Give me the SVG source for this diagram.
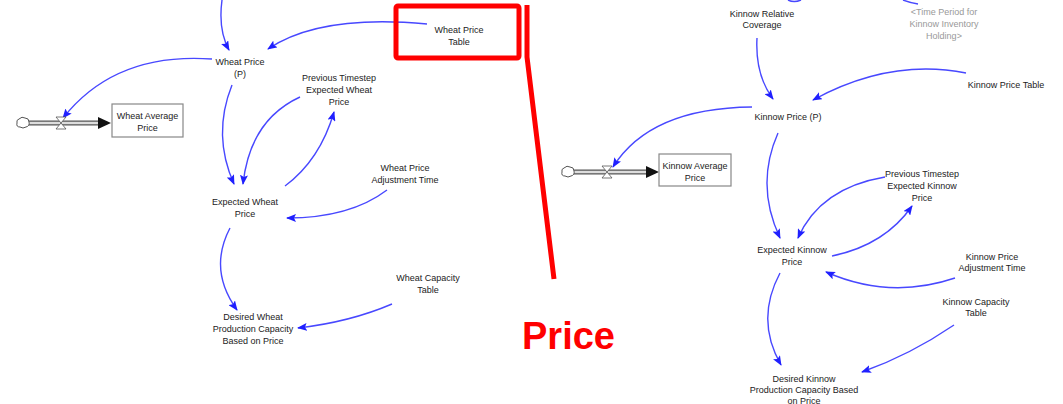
<svg xmlns="http://www.w3.org/2000/svg" width="1063" height="404" viewBox="0 0 1063 404">
<defs>
<marker id="ah" viewBox="0 0 10 8" refX="9" refY="4" markerWidth="10" markerHeight="8" markerUnits="userSpaceOnUse" orient="auto">
<path d="M0,0 L10,4 L0,8 L2,4 Z" fill="#2020ff"/>
</marker>
<style>
.t{font-family:"Liberation Sans",Arial,sans-serif;font-size:9px;fill:#222;text-anchor:middle}
.g{fill:#999}
.arc{fill:none;stroke:#4848ff;stroke-width:1.4}
.pipeo{fill:none;stroke:#555;stroke-width:5}
.pipei{fill:none;stroke:#ddd;stroke-width:2.4}
.stock{fill:#fff;stroke:#888;stroke-width:1.2}
.valve{fill:#fff;stroke:#555;stroke-width:0.8}
.cloud{fill:#fff;stroke:#555;stroke-width:1}
.red{fill:none;stroke:#ff0000;stroke-width:5}
</style>
</defs>
<rect width="1063" height="404" fill="#fff"/>

<g id="connectors">
<path class="arc" d="M222,0 Q218,30 229,50" marker-end="url(#ah)"/>
<path class="arc" d="M427,24 Q320,14 268,49" marker-end="url(#ah)"/>
<path class="arc" d="M212,59 Q115,52 63,118" marker-end="url(#ah)"/>
<path class="arc" d="M232,85 Q212,135 234,184" marker-end="url(#ah)"/>
<path class="arc" d="M300,97 Q250,120 243,184" marker-end="url(#ah)"/>
<path class="arc" d="M285,186 Q320,160 334,112" marker-end="url(#ah)"/>
<path class="arc" d="M387,190 Q350,218 287,218" marker-end="url(#ah)"/>
<path class="arc" d="M230,228 Q208,270 237,310" marker-end="url(#ah)"/>
<path class="arc" d="M392,304 Q350,322 298,328" marker-end="url(#ah)"/>

<path class="arc" d="M788,0 Q794,3 801,0"/>
<path class="arc" d="M903,0 Q911,3 918,4"/>
<path class="arc" d="M757,38 Q755,75 773,99" marker-end="url(#ah)"/>
<path class="arc" d="M966,73 Q890,58 813,100" marker-end="url(#ah)"/>
<path class="arc" d="M752,107 Q650,108 613,167" marker-end="url(#ah)"/>
<path class="arc" d="M778,133 Q755,185 780,238" marker-end="url(#ah)"/>
<path class="arc" d="M885,177 Q820,188 798,238" marker-end="url(#ah)"/>
<path class="arc" d="M832,256 Q885,245 912,206" marker-end="url(#ah)"/>
<path class="arc" d="M955,278 Q890,300 826,272" marker-end="url(#ah)"/>
<path class="arc" d="M780,273 Q755,320 781,365" marker-end="url(#ah)"/>
<path class="arc" d="M954,325 Q910,355 862,372" marker-end="url(#ah)"/>

<path class="pipeo" d="M28,123 L100,123"/>
<path class="pipei" d="M28,123 L100,123"/>
<path d="M98,117 L111,123 L98,129 Z" fill="#111"/>
<path class="pipeo" d="M573,172 L648,172"/>
<path class="pipei" d="M573,172 L648,172"/>
<path d="M646,166 L659,172 L646,178 Z" fill="#111"/>
</g>

<g id="wheat-avg-price">
<path class="cloud" d="M19,119 q3,-3 6,-1 q4,0 4,4 q1,4 -3,5 q-3,2 -6,0 q-4,0 -3,-4 q-1,-3 2,-4 Z"/>
<path class="valve" d="M56,117 L66,117 L56,129 L66,129 Z"/>
<rect class="stock" x="112" y="104" width="71" height="33"/>
<text class="t" x="147.5" y="119">Wheat Average</text>
<text class="t" x="147.5" y="131">Price</text>
</g>
<g id="wheat-price-p">
<text class="t" x="240" y="65">Wheat Price</text>
<text class="t" x="240" y="77">(P)</text>
</g>
<g id="wheat-price-table">
<text class="t" x="459" y="33">Wheat Price</text>
<text class="t" x="459" y="45">Table</text>
</g>
<g id="prev-expected-wheat">
<text class="t" x="339" y="81">Previous Timestep</text>
<text class="t" x="339" y="93">Expected Wheat</text>
<text class="t" x="339" y="105">Price</text>
</g>
<g id="expected-wheat">
<text class="t" x="245" y="205">Expected Wheat</text>
<text class="t" x="245" y="217">Price</text>
</g>
<g id="wheat-adj-time">
<text class="t" x="405" y="171">Wheat Price</text>
<text class="t" x="405" y="183">Adjustment Time</text>
</g>
<g id="wheat-capacity-table">
<text class="t" x="428" y="281">Wheat Capacity</text>
<text class="t" x="428" y="293">Table</text>
</g>
<g id="desired-wheat">
<text class="t" x="253" y="320">Desired Wheat</text>
<text class="t" x="253" y="332">Production Capacity</text>
<text class="t" x="253" y="344">Based on Price</text>
</g>

<g id="kinnow-avg-price">
<path class="cloud" d="M564,168 q3,-3 6,-1 q4,0 4,4 q1,4 -3,5 q-3,2 -6,0 q-4,0 -3,-4 q-1,-3 2,-4 Z"/>
<path class="valve" d="M602,166 L612,166 L602,178 L612,178 Z"/>
<rect class="stock" x="659" y="154" width="72" height="32"/>
<text class="t" x="695" y="169">Kinnow Average</text>
<text class="t" x="695" y="181">Price</text>
</g>
<g id="kinnow-relative-coverage">
<text class="t" x="762" y="17">Kinnow Relative</text>
<text class="t" x="762" y="28">Coverage</text>
</g>
<g id="time-period-kinnow">
<text class="t g" x="944" y="15">&lt;Time Period for</text>
<text class="t g" x="944" y="27">Kinnow Inventory</text>
<text class="t g" x="944" y="39">Holding&gt;</text>
</g>
<g id="kinnow-price-table">
<text class="t" x="1006" y="88">Kinnow Price Table</text>
</g>
<g id="kinnow-price-p">
<text class="t" x="788" y="120">Kinnow Price (P)</text>
</g>
<g id="prev-expected-kinnow">
<text class="t" x="922" y="177">Previous Timestep</text>
<text class="t" x="922" y="189">Expected Kinnow</text>
<text class="t" x="922" y="201">Price</text>
</g>
<g id="expected-kinnow">
<text class="t" x="792" y="253">Expected Kinnow</text>
<text class="t" x="792" y="265">Price</text>
</g>
<g id="kinnow-adj-time">
<text class="t" x="992" y="260">Kinnow Price</text>
<text class="t" x="992" y="271">Adjustment Time</text>
</g>
<g id="kinnow-capacity-table">
<text class="t" x="976" y="305">Kinnow Capacity</text>
<text class="t" x="976" y="316">Table</text>
</g>
<g id="desired-kinnow">
<text class="t" x="804" y="382">Desired Kinnow</text>
<text class="t" x="804" y="393">Production Capacity Based</text>
<text class="t" x="804" y="404">on Price</text>
</g>

<g id="annotation">
<rect class="red" x="396" y="6" width="123" height="52" rx="2"/>
<polyline class="red" points="527,5 527,57 554,279" stroke-linejoin="round"/>
<text x="522" y="349" font-family="Liberation Sans,Arial,sans-serif" font-weight="bold" font-size="38" fill="#ff0000">Price</text>
</g>
</svg>
